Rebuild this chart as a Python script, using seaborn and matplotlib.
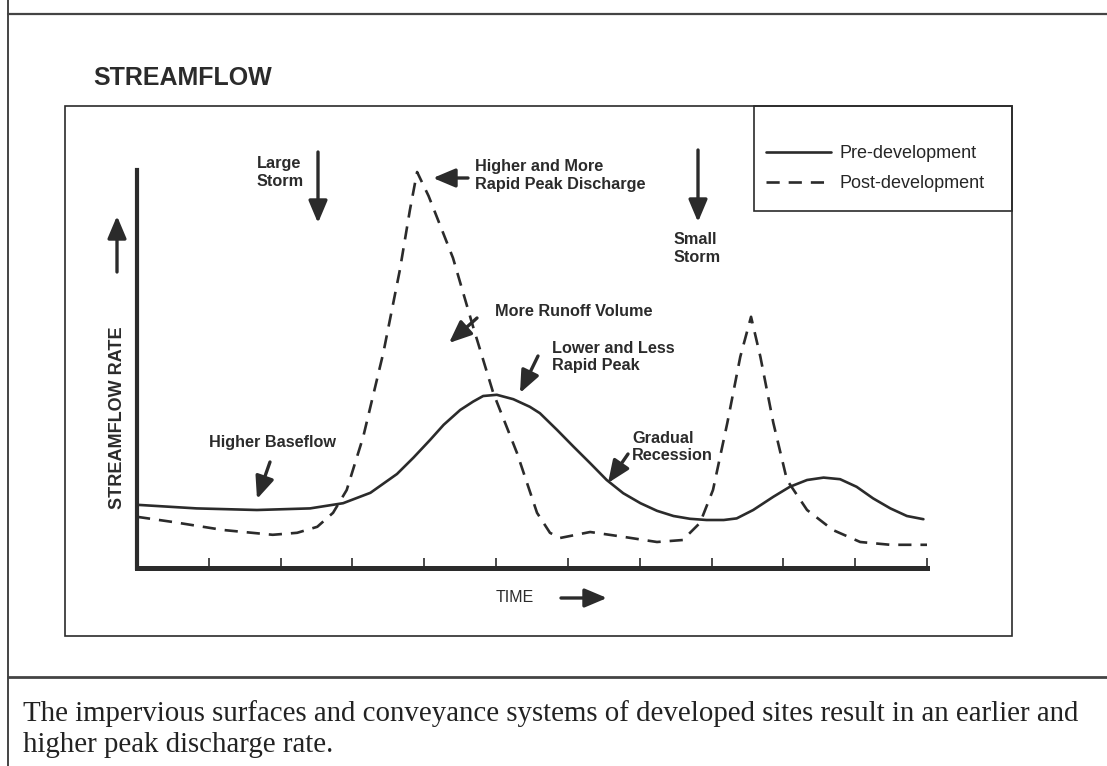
import pandas as pd
import seaborn as sns
import matplotlib.pyplot as plt
from matplotlib.lines import Line2D
from matplotlib.patches import Rectangle

# Hydrograph (time in tick units, rate in arbitrary units)
pre_time = [0.00, 0.83, 1.67, 2.41, 2.87, 3.25, 3.62, 3.85, 4.08, 4.27, 4.50, 4.68,
            4.82, 5.01, 5.24, 5.47, 5.61, 5.85, 6.08, 6.31, 6.54, 6.77, 7.01, 7.24,
            7.47, 7.70, 7.93, 8.17, 8.35, 8.58, 8.86, 9.09, 9.33, 9.56, 9.79, 10.02,
            10.25, 10.49, 10.72, 10.95]
pre_rate = [1.58, 1.49, 1.45, 1.49, 1.62, 1.88, 2.35, 2.76, 3.20, 3.58, 3.95, 4.16,
            4.30, 4.33, 4.22, 4.03, 3.87, 3.45, 3.03, 2.62, 2.20, 1.87, 1.62, 1.43,
            1.30, 1.23, 1.20, 1.20, 1.24, 1.45, 1.78, 2.03, 2.20, 2.26, 2.22, 2.03,
            1.74, 1.49, 1.30, 1.22]

post_time = [0.00, 0.50, 1.20, 1.89, 2.23, 2.51, 2.73, 2.92, 3.15, 3.43, 3.66, 3.80,
             3.90, 4.06, 4.40, 4.68, 4.96, 5.29, 5.57, 5.75, 5.89, 6.31, 6.77, 7.24,
             7.60, 7.84, 8.02, 8.22, 8.40, 8.55, 8.68, 8.86, 9.05, 9.33, 9.69, 10.07,
             10.49, 11.00]
post_rate = [1.28, 1.15, 0.95, 0.83, 0.88, 1.03, 1.38, 1.95, 3.28, 5.38, 7.45, 8.95,
             9.90, 9.30, 7.75, 6.03, 4.38, 2.88, 1.38, 0.88, 0.75, 0.90, 0.78, 0.65,
             0.70, 1.13, 1.95, 3.63, 5.28, 6.28, 5.28, 3.63, 2.20, 1.45, 0.95, 0.65,
             0.58, 0.58]

series_names = ["Pre-development", "Post-development"]
x_ticks = list(range(1, 12))

ink = "#2b2b2b"
W, H = 1107, 766

df = pd.concat([
    pd.DataFrame({"time": pre_time, "rate": pre_rate, "series": series_names[0]}),
    pd.DataFrame({"time": post_time, "rate": post_rate, "series": series_names[1]}),
])

sns.set_style("white")
plt.rcParams["font.family"] = ["Liberation Sans", "DejaVu Sans"]

fig = plt.figure(figsize=(W / 100, H / 100), dpi=100)


def fx(x):
    return x / W


def fy(y):
    return 1 - y / H


def fp(x, y):
    # image pixel -> figure pixel
    return (x, H - y)


ax = fig.add_axes([fx(137), fy(568), (927 - 137) / W, (568 - 170) / H])
sns.lineplot(data=df, x="time", y="rate", hue="series", style="series",
             palette={series_names[0]: ink, series_names[1]: ink},
             dashes={series_names[0]: "", series_names[1]: (5.0, 3.4)},
             estimator=None, sort=False, linewidth=1.9, legend=False, ax=ax)

ax.set_xlim(0, 11)
ax.set_ylim(0, 9.95)
ax.set_xticks(x_ticks)
ax.set_xticklabels([])
ax.set_yticks([])
ax.tick_params(axis="x", direction="in", length=7, width=1.2, color=ink, bottom=True)
for s in ["top", "right"]:
    ax.spines[s].set_visible(False)
ax.spines["left"].set_linewidth(3.0)
ax.spines["bottom"].set_linewidth(3.6)
ax.spines["left"].set_color(ink)
ax.spines["bottom"].set_color(ink)

ax.set_xlabel("TIME", fontsize=11.5, color=ink, va="center")
ax.xaxis.set_label_coords((515 - 137) / 790, -(598 - 568) / 398)
ax.set_ylabel("STREAMFLOW RATE", fontsize=13, fontweight="bold", color=ink, va="center")
ax.yaxis.set_label_coords(-(137 - 118) / 790, (568 - 418) / 398)

# frames of the scanned page
fig.add_artist(Line2D([fx(8), fx(8)], [0, 1], color="#444444", lw=1.4))
fig.add_artist(Line2D([fx(8), 1], [fy(14), fy(14)], color="#444444", lw=1.6))
fig.add_artist(Line2D([fx(8), 1], [fy(677), fy(677)], color="#444444", lw=2.0))
fig.add_artist(Rectangle((fx(65), fy(636)), fx(1012) - fx(65), (636 - 106) / H,
                         fill=False, ec=ink, lw=1.2))
fig.add_artist(Rectangle((fx(754), fy(211)), fx(1012) - fx(754), (211 - 106) / H,
                         fill=False, ec=ink, lw=1.2))

# legend
fig.legend(handles=ax.lines[:2], labels=series_names, loc="upper left",
           bbox_to_anchor=(fx(766), fy(145)), frameon=False,
           handlelength=3.6, handletextpad=0.45, labelspacing=0.72,
           borderpad=0, borderaxespad=0, prop={"family": ["Liberation Sans"], "size": 13})

fig.text(fx(93), fy(78), "STREAMFLOW", fontsize=18, fontweight="bold", color=ink,
         ha="left", va="center")

notes = [
    (257, 172.5, "Large\nStorm"),
    (475, 175.5, "Higher and More\nRapid Peak Discharge"),
    (495, 312, "More Runoff Volume"),
    (552, 357, "Lower and Less\nRapid Peak"),
    (209, 442, "Higher Baseflow"),
    (632, 447, "Gradual\nRecession"),
    (674, 248.5, "Small\nStorm"),
]
for x, y, s in notes:
    fig.text(fx(x), fy(y), s, fontsize=11.7, fontweight="bold", color=ink,
             ha="left", va="center", linespacing=1.18)

arrow_kw = dict(arrowstyle="-|>,head_length=0.9,head_width=0.38", lw=2.4, color=ink,
                mutation_scale=15, shrinkA=0, shrinkB=0)
arrows = [
    ((318, 152), (318, 223)),
    ((468, 178), (433, 178)),
    ((477, 318), (449, 343)),
    ((538, 356), (520, 393)),
    ((270, 462), (257, 499)),
    ((628, 454), (608, 483)),
    ((698, 150), (698, 222)),
    ((117, 272), (117, 216)),
    ((561, 598), (607, 598)),
]
for tail, tip in arrows:
    ax.annotate("", xy=fp(*tip), xytext=fp(*tail), xycoords="figure pixels",
                textcoords="figure pixels", arrowprops=arrow_kw, annotation_clip=False)

fig.text(fx(23), fy(729),
         "The impervious surfaces and conveyance systems of developed sites result in an earlier and\n"
         "higher peak discharge rate.",
         fontsize=20.8, color="#222222", ha="left", va="center", linespacing=1.22,
         family=["Liberation Serif", "DejaVu Serif"])

fig.savefig("out.png", dpi=100, facecolor="white")
